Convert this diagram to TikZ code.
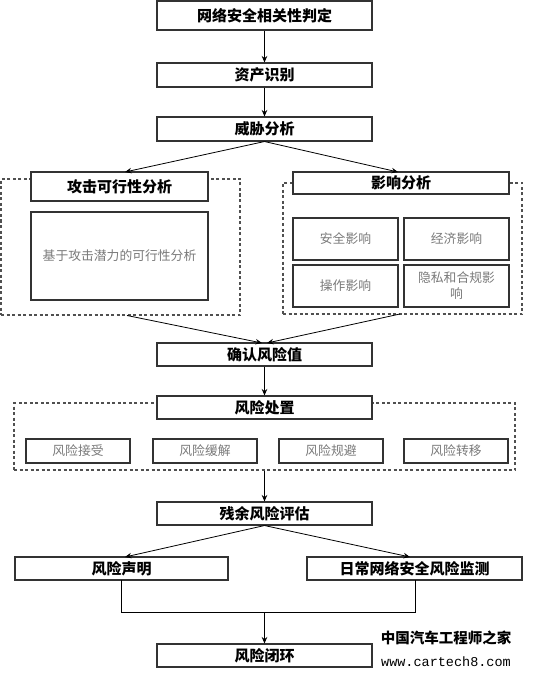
\documentclass[tikz,border=0pt]{standalone}
\usepackage{fontspec}
\newfontfamily\cjk{Noto Sans CJK SC}
\newfontfamily\wmono{Liberation Mono}
\usetikzlibrary{arrows.meta}
\definecolor{bord}{HTML}{333333}
\definecolor{dashc}{HTML}{505050}
\definecolor{subtxt}{HTML}{7A7A7A}
\tikzset{
  mainbox/.style={draw=bord, line width=1.05pt, fill=white, inner sep=0pt, minimum width=215pt, minimum height=24pt, font=\cjk\bfseries\fontsize{15}{17}\selectfont},
  subbox/.style={draw=bord, line width=1.05pt, fill=white, inner sep=0pt, text=subtxt, align=center, font=\cjk\fontsize{12.8}{16}\selectfont},
  grp/.style={draw=dashc, line width=1.1pt, dash pattern=on 3pt off 2.5pt, inner sep=0pt},
  conn/.style={draw=black, line width=0.8pt, -{Stealth[length=6.5pt,width=5.5pt]}},
  plain/.style={draw=black, line width=0.8pt},
}
\begin{document}
\begin{tikzpicture}[x=1pt,y=-1pt]
\useasboundingbox (0,0) rectangle (538,676);
% dashed groups
\node[grp, minimum width=239pt, minimum height=136pt] (gL) at (120.5,247) {};
\node[grp, minimum width=239pt, minimum height=131pt] (gR) at (402.5,248.5) {};
\node[grp, minimum width=501pt, minimum height=67pt] (gM) at (264.5,436.5) {};
% main boxes
\node[mainbox, minimum height=29pt] (n1) at (264.5,15.5) {网络安全相关性判定};
\node[mainbox] (n2) at (264.5,75) {资产识别};
\node[mainbox] (n3) at (264.5,129) {威胁分析};
\node[mainbox, minimum width=177pt, minimum height=29pt] (atk) at (119.5,186.5) {攻击可行性分析};
\node[subbox, minimum width=177pt, minimum height=88pt] (atkin) at (119.5,256) {基于攻击潜力的可行性分析};
\node[mainbox, minimum width=216pt, minimum height=22pt] (imp) at (401,183) {影响分析};
\node[subbox, minimum width=105pt, minimum height=42pt] (s1) at (345.5,239) {安全影响};
\node[subbox, minimum width=105pt, minimum height=42pt] (s2) at (456.5,239) {经济影响};
\node[subbox, minimum width=105pt, minimum height=42pt] (s3) at (345.5,286) {操作影响};
\node[subbox, minimum width=105pt, minimum height=42pt] (s4) at (456.5,286) {隐私和合规影\\响};
\node[mainbox, minimum height=23pt] (n4) at (264.5,354.5) {确认风险值};
\node[mainbox, minimum height=23pt] (n5) at (264.5,407.5) {风险处置};
\node[subbox, minimum width=104pt, minimum height=24pt] (t1) at (78,451) {风险接受};
\node[subbox, minimum width=104pt, minimum height=24pt] (t2) at (205,451) {风险缓解};
\node[subbox, minimum width=104pt, minimum height=24pt] (t3) at (331,451) {风险规避};
\node[subbox, minimum width=104pt, minimum height=24pt] (t4) at (456,451) {风险转移};
\node[mainbox, minimum height=23pt] (n6) at (264.5,513.5) {残余风险评估};
\node[mainbox, minimum width=213pt, minimum height=23pt] (d1) at (121.5,568.5) {风险声明};
\node[mainbox, minimum width=215pt, minimum height=23pt] (d2) at (414.5,568.5) {日常网络安全风险监测};
\node[mainbox, minimum height=23pt] (n7) at (264.5,655.5) {风险闭环};
% connector points
\coordinate (gLo) at (127,315.5);
\coordinate (gRo) at (400,314);
\coordinate (n4a) at (262,343);
\coordinate (n4b) at (267,343);
\coordinate (atkt) at (125,172);
\coordinate (impt) at (398,172);
\coordinate (d1t) at (125,557);
\coordinate (d2t) at (410,557);
\coordinate (d1b) at (121,580);
\coordinate (d2b) at (415,580);
\coordinate (jl) at (121,612);
\coordinate (jr) at (415,612);
\coordinate (jm) at (264.5,612);
% connectors
\draw[conn] (n1.south) -- (n2.north);
\draw[conn] (n2.south) -- (n3.north);
\draw[conn] (n3.south) -- (atkt);
\draw[conn] (n3.south) -- (impt);
\draw[conn] (gLo) -- (n4a);
\draw[conn] (gRo) -- (n4b);
\draw[conn] (n4.south) -- (n5.north);
\draw[conn] (gM.south) -- (n6.north);
\draw[conn] (n6.south) -- (d1t);
\draw[conn] (n6.south) -- (d2t);
\draw[plain] (d1b) -- (jl) -- (jr) -- (d2b);
\draw[conn] (jm) -- (n7.north);
% watermark
\node[inner sep=0pt, font=\cjk\bfseries\fontsize{14.5}{16}\selectfont] (wm1) at (446,638) {中国汽车工程师之家};
\node[inner sep=0pt, font=\wmono\fontsize{13.5}{15}\selectfont] (wm2) at (446,662) {www.cartech8.com};
\end{tikzpicture}
\end{document}
